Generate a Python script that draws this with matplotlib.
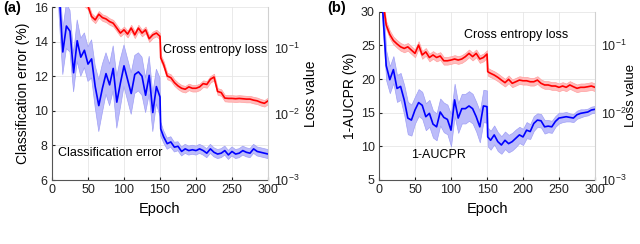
import numpy as np
import matplotlib
matplotlib.use('Agg')
import matplotlib.pyplot as plt

plt.rcParams['font.family'] = ['Liberation Sans', 'DejaVu Sans']
plt.rcParams['mathtext.fontset'] = 'custom'
plt.rcParams['mathtext.rm'] = 'Liberation Sans'

# ---- panel (a): classification error / cross entropy ----
epochs_a = [1] + list(range(5, 151, 5)) + [151] + list(range(155, 301, 5))

cls_err = [30.0, 21.0, 16.8, 13.4, 14.9, 14.6, 12.2, 14.05, 13.1, 13.5, 12.7,
           13.0, 11.4, 10.3, 11.3, 12.15, 11.5, 12.45, 10.5, 11.6, 12.6,
           11.8, 11.0, 12.1, 12.25, 12.0, 10.9, 12.05, 9.9, 11.4, 10.8,
           8.95,
           8.5, 8.1, 8.2, 7.9, 7.95, 7.65, 7.8, 7.7, 7.75, 7.7,
           7.8, 7.7, 7.55, 7.8, 7.6, 7.5, 7.55, 7.7, 7.45, 7.65,
           7.5, 7.55, 7.7, 7.6, 7.55, 7.8, 7.65, 7.6, 7.55, 7.5]
cls_err_sd = [1.4, 1.4, 1.4, 1.3, 1.3, 1.2, 1.1, 1.2, 1.1, 1.0, 1.0,
              1.1, 1.2, 1.5, 1.4, 1.2, 1.2, 1.3, 1.5, 1.4, 1.2,
              1.2, 1.2, 1.1, 1.1, 1.1, 1.0, 1.1, 1.1, 1.0, 1.1,
              0.4,
              0.35, 0.32, 0.3, 0.28, 0.26, 0.26, 0.26, 0.26, 0.26, 0.26,
              0.26, 0.26, 0.26, 0.26, 0.26, 0.26, 0.26, 0.26, 0.26, 0.26,
              0.26, 0.26, 0.26, 0.26, 0.26, 0.26, 0.26, 0.26, 0.26, 0.26]

loss_a = [2.3, 1.5, 1.1, 0.95, 0.85, 0.75, 0.68, 0.6, 0.55, 0.48, 0.43,
          0.299, 0.266, 0.324, 0.288, 0.275, 0.251, 0.237, 0.200, 0.168, 0.188,
          0.162, 0.200, 0.158, 0.200, 0.168, 0.188, 0.138, 0.158, 0.168, 0.150,
          0.0708,
          0.0562, 0.0376, 0.0355, 0.0299, 0.0266, 0.0245, 0.0237, 0.0257, 0.0245, 0.0245,
          0.0257, 0.0288, 0.0280, 0.0335, 0.0363, 0.0219, 0.0211, 0.0174, 0.0172, 0.0172,
          0.0170, 0.0172, 0.0170, 0.0168, 0.0168, 0.0162, 0.0158, 0.0150, 0.0145, 0.0158]

# ---- panel (b): 1-AUCPR / cross entropy ----
epochs_b = epochs_a

aucpr = [40.0, 30.5, 22.0, 19.9, 21.4, 18.6, 18.9, 16.9, 14.2, 13.9, 15.4,
         16.5, 16.1, 14.4, 14.9, 13.3, 12.9, 15.1, 14.3, 14.0, 12.4,
         16.9, 14.2, 15.6, 15.6, 16.0, 15.6, 14.4, 12.9, 16.0, 15.9,
         11.4,
         10.9, 11.7, 10.7, 10.2, 10.9, 10.4, 10.7, 11.2, 11.7, 11.4,
         12.4, 12.2, 13.4, 13.9, 13.8, 12.9, 13.0, 12.9, 13.7, 14.2,
         14.3, 14.4, 14.3, 14.2, 14.7, 14.9, 15.0, 15.1, 15.4, 15.5]
aucpr_sd = [2.5, 2.5, 2.2, 2.0, 2.0, 2.0, 2.0, 2.2, 2.4, 2.3, 2.0,
            2.0, 2.0, 2.0, 2.0, 2.0, 2.0, 2.0, 2.2, 2.2, 2.4,
            2.4, 2.2, 2.2, 2.2, 2.2, 2.2, 2.2, 2.3, 2.4, 2.4,
            1.4,
            1.4, 1.4, 1.4, 1.3, 1.3, 1.3, 1.3, 1.3, 1.2, 1.2,
            1.2, 1.1, 1.1, 1.0, 1.0, 1.0, 0.9, 0.9, 0.8, 0.8,
            0.7, 0.7, 0.6, 0.6, 0.6, 0.6, 0.5, 0.5, 0.5, 0.5]

loss_b = [1.0, 0.5, 0.2, 0.145, 0.118, 0.105, 0.095, 0.09, 0.095, 0.085, 0.076,
          0.101, 0.072, 0.080, 0.066, 0.072, 0.066, 0.0695, 0.059, 0.059, 0.0605,
          0.0627, 0.0605, 0.0627, 0.068, 0.076, 0.068, 0.076, 0.0627, 0.066, 0.0743,
          0.0406,
          0.0384, 0.0362, 0.0335, 0.0305, 0.0279, 0.0313, 0.0273, 0.0288, 0.0305, 0.0298,
          0.0298, 0.0288, 0.0288, 0.0305, 0.0273, 0.0258, 0.0258, 0.0249, 0.0249, 0.0238,
          0.0249, 0.0238, 0.0258, 0.0243, 0.0230, 0.0238, 0.0238, 0.0243, 0.0249, 0.0238]

BLUE = '#0000ff'
RED = '#ff0000'


def style_axes(ax, ax2):
    ax.set_xlim(0, 300)
    ax.set_xticks([0, 50, 100, 150, 200, 250, 300])
    ax.grid(True, color='#e6e6e6', linewidth=0.6)
    ax.set_axisbelow(True)
    ax.tick_params(direction='in', length=2.5, labelsize=9, colors='#222222', pad=3)
    ax.spines['left'].set_color('#555555')
    ax.spines['bottom'].set_color('#555555')
    for s in ['top', 'right']:
        ax.spines[s].set_visible(False)
    for s in ['top', 'left', 'bottom']:
        ax2.spines[s].set_visible(False)
    ax2.spines['right'].set_color('#d0d0d0')
    ax2.set_yscale('log')
    ax2.set_yticks([1e-3, 1e-2, 1e-1])
    ax2.minorticks_off()
    ax2.tick_params(direction='in', length=0, labelsize=9, colors='#222222', pad=4)
    ax.set_xlabel('Epoch', fontsize=10.5, labelpad=4)


def band(ax, x, lo, hi, face, edge):
    ax.fill_between(x, lo, hi, facecolor=face, edgecolor=edge, linewidth=0.5)


fig = plt.figure(figsize=(6.4, 2.44), dpi=100)

# (a)
ax = fig.add_axes([52 / 640, 1 - 180 / 244, 216 / 640, 173 / 244])
ax2 = ax.twinx()
e = np.array(epochs_a)
v = np.array(cls_err)
sd = np.array(cls_err_sd)
band(ax, e, v - sd, v + sd, '#bcbcfa', '#a0a0f5')
ax.plot(e, v, color=BLUE, linewidth=1.2)
l = np.array(loss_a)
band(ax2, e, l / 1.12, l * 1.12, '#ffbcbc', '#ffa0a0')
ax2.plot(e, l, color=RED, linewidth=1.2)
ax.set_ylim(6, 16)
ax.set_yticks([6, 8, 10, 12, 14, 16])
ax2.set_ylim(1e-3, 10 ** -0.38)
style_axes(ax, ax2)
ax.set_ylabel('Classification error (%)', fontsize=10, labelpad=3)
ax2.set_ylabel('Loss value', fontsize=10)
ax2.yaxis.set_label_coords(1.167, 0.5)
ax.text(154, 13.5, 'Cross entropy loss', fontsize=9, va='center', ha='left')
ax.text(8.5, 7.57, 'Classification error', fontsize=9, va='center', ha='left')
fig.text(3 / 640, 1 - 8 / 244, '(a)', fontsize=10.5, fontweight='bold', va='center')

# (b)
bx = fig.add_axes([379 / 640, 1 - 180 / 244, 216 / 640, 168.3 / 244])
bx2 = bx.twinx()
v = np.array(aucpr)
sd = np.array(aucpr_sd)
band(bx, e, v - sd, v + sd, '#bcbcfa', '#a0a0f5')
bx.plot(e, v, color=BLUE, linewidth=1.2)
l = np.array(loss_b)
band(bx2, e, l / 1.14, l * 1.14, '#ffbcbc', '#ffa0a0')
bx2.plot(e, l, color=RED, linewidth=1.2)
bx.set_ylim(5, 30)
bx.set_yticks([5, 10, 15, 20, 25, 30])
bx2.set_ylim(1e-3, 10 ** -0.5)
style_axes(bx, bx2)
bx.set_ylabel('1-AUCPR (%)', fontsize=10, labelpad=3)
bx2.set_ylabel('Loss value', fontsize=9.5)
bx2.yaxis.set_label_coords(1.14, 0.5)
bx.text(118, 26.5, 'Cross entropy loss', fontsize=9, va='center', ha='left')
bx.text(44, 8.7, '1-AUCPR', fontsize=9, va='center', ha='left')
fig.text(327 / 640, 1 - 8 / 244, '(b)', fontsize=10.5, fontweight='bold', va='center')

fig.savefig('out.png', dpi=100)
plt.close(fig)
